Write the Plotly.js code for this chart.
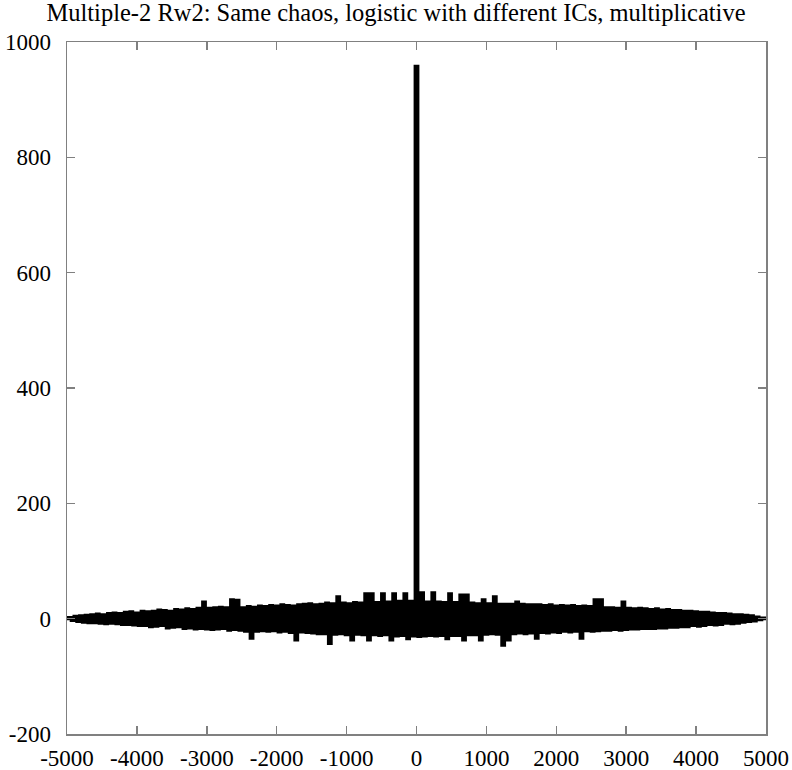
<!DOCTYPE html>
<html>
<head>
<meta charset="utf-8">
<script src="https://cdn.plot.ly/plotly-3.0.1.min.js"></script>
<style>html,body{margin:0;padding:0;background:#fff;}</style>
</head>
<body>
<div id="chart" style="width:792px;height:770px;"></div>
<script>
// Lag grid: -5000 .. 5000, step 40 (251 samples)
const lagStart = -5000;
const lagStep = 40;

// Values (upper/lower excursions alternate)
const values = [
  0,
  2, -3, 4, -5, 5, -6, 6, -7, 7, -7,
  8, -8, 7, -9, 9, -8, 10, -9, 9, -10,
  11, -10, 12, -11, 10, -12, 13, -12, 12, -14,
  13, -13, 15, -12, 14, -16, 13, -15, 16, -14,
  15, -17, 17, -16, 16, -18, 18, -17, 29, -18,
  18, -19, 19, -18, 20, -17, 19, -20, 33, -19,
  32, -20, 19, -22, 21, -34, 20, -22, 22, -21,
  21, -22, 23, -21, 22, -23, 24, -22, 23, -24,
  22, -37, 24, -23, 25, -24, 26, -25, 24, -26,
  25, -26, 27, -43, 26, -27, 38, -26, 27, -28,
  26, -37, 28, -27, 27, -28, 43, -37, 43, -28,
  28, -29, 43, -28, 29, -37, 43, -30, 30, -29,
  43, -35, 30, -30,
  958,
  -31, 45, -30,
  29, -29, 45, -30, 29, -29, 28, -35, 43, -29,
  28, -29, 41, -37, 41, -28, 27, -28, 26, -37,
  33, -27, 26, -26, 38, -27, 25, -46, 25, -37,
  25, -26, 29, -25, 25, -26, 24, -25, 24, -34,
  24, -24, 23, -25, 24, -23, 22, -24, 23, -22,
  22, -23, 23, -22, 21, -34, 22, -21, 21, -22,
  33, -21, 33, -20, 19, -20, 19, -19, 18, -20,
  29, -19, 18, -18, 17, -18, 18, -17, 17, -17,
  16, -17, 17, -16, 15, -16, 16, -15, 14, -15,
  14, -14, 13, -14, 13, -12, 12, -13, 11, -12,
  11, -10, 10, -11, 9, -10, 9, -8, 8, -9,
  7, -8, 7, -6, 6, -5, 5, -4, 3, -2,
  1, 0
];

const lags = values.map((_, i) => lagStart + i * lagStep);

const xTicks = [-5000, -4000, -3000, -2000, -1000, 0, 1000, 2000, 3000, 4000, 5000];
const yTicks = [-200, 0, 200, 400, 600, 800, 1000];

const frameColor = '#808080';
const fontFam = 'Liberation Serif, Times New Roman, serif';

const trace = {
  x: lags,
  y: values,
  type: 'scatter',
  mode: 'lines',
  line: {color: '#000000', width: 3, shape: 'hvh'},
  hoverinfo: 'skip'
};

function axisCommon() {
  return {
    showgrid: false,
    zeroline: false,
    showline: true,
    linecolor: frameColor,
    linewidth: 1.5,
    mirror: 'ticks',
    ticks: 'inside',
    ticklen: 8,
    tickwidth: 1.5,
    tickcolor: frameColor,
    tickfont: {family: fontFam, size: 23, color: '#000'}
  };
}

const layout = {
  width: 792,
  height: 770,
  margin: {l: 67, r: 26, t: 42, b: 36},
  paper_bgcolor: '#fff',
  plot_bgcolor: '#fff',
  showlegend: false,
  font: {family: fontFam, size: 23, color: '#000'},
  title: {
    text: 'Multiple-2 Rw2: Same chaos, logistic with different ICs, multiplicative',
    font: {family: fontFam, size: 24.5, color: '#000'},
    x: 0.5, xanchor: 'center',
    y: 0.984, yanchor: 'middle'
  },
  xaxis: Object.assign(axisCommon(), {
    range: [-5000, 5000],
    tickvals: xTicks,
    ticktext: xTicks.map(String),
    ticklabelstandoff: 3
  }),
  yaxis: Object.assign(axisCommon(), {
    range: [-200, 1000],
    tickvals: yTicks,
    ticktext: yTicks.map(String),
    ticklabelstandoff: 10
  })
};

Plotly.newPlot('chart', [trace], layout, {displayModeBar: false, staticPlot: true});
</script>
</body>
</html>
